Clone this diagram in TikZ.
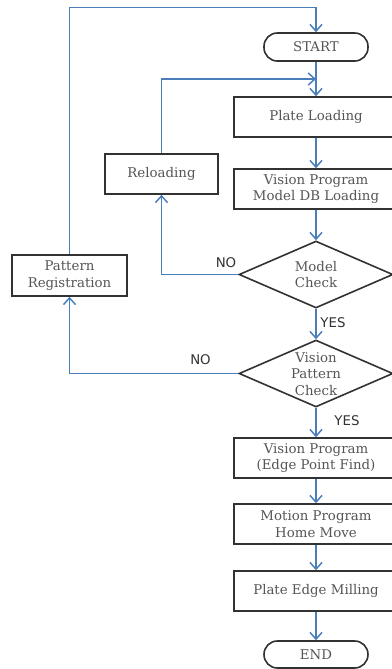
\documentclass[tikz,border=0pt]{standalone}
\usepackage{fontspec}
\setmainfont{DejaVu Serif}
\newfontfamily\lblfont{DejaVu Sans}
\usetikzlibrary{shapes.geometric,arrows.meta}
\definecolor{flow}{RGB}{74,126,187}
\definecolor{edgec}{RGB}{50,50,50}
\definecolor{txt}{RGB}{85,85,85}
\begin{document}
\begin{tikzpicture}[x=0.75pt,y=-0.75pt,
  proc/.style={draw=edgec, line width=1.2pt, fill=white, text=txt, align=center,
    font=\fontsize{10}{12.5}\selectfont, minimum height=30pt, inner sep=0pt},
  wide/.style={proc, minimum width=123pt},
  term/.style={proc, rounded corners=10pt, minimum width=78pt, minimum height=21pt},
  dec/.style={diamond, draw=edgec, line width=1.2pt, fill=white, minimum width=115.5pt,
    minimum height=50.25pt, inner sep=0pt},
  dtext/.style={text=txt, align=center, font=\fontsize{10}{12.5}\selectfont, inner sep=0pt},
  conn/.style={draw=flow, line width=1.1pt, -{Straight Barb[length=5pt,width=9pt]}},
  lbl/.style={font=\lblfont\fontsize{10}{12}\selectfont, text=edgec, inner sep=0pt}]
\useasboundingbox (0,0) rectangle (392,669);

\node[term] (start) at (316,47) {START};
\node[wide] (pl) at (316,117) {Plate Loading};
\node[wide] (vp) at (316,189) {Vision Program\\Model DB Loading};
\node[dec] (mc) at (316,274.5) {};
\node[dtext] (mct) at (316,274.5) {Model\\Check};
\node[dec] (vpc) at (316,373.5) {};
\node[dtext] (vpct) at (316,374) {Vision\\Pattern\\Check};
\node[wide] (ve) at (316,458) {Vision Program\\(Edge Point Find)};
\node[wide] (mp) at (316,524) {Motion Program\\Home Move};
\node[wide] (pem) at (316,591) {Plate Edge Milling};
\node[term, minimum height=20.25pt] (end) at (316,654.5) {END};
\node[proc, minimum width=84.75pt] (rl) at (161.5,174) {Reloading};
\node[proc, minimum width=86.25pt, minimum height=30.75pt] (pr) at (69.5,275.5) {Pattern\\Registration};

\coordinate (m1) at (316,79);
\coordinate (tl) at (69.5,7.5);

\draw[conn] (start) -- (pl);
\draw[conn] (rl.north) |- (m1);
\draw[conn] (pl) -- (vp);
\draw[conn] (vp) -- (mc);
\draw[conn] (mc.west) -| (rl.south);
\draw[conn] (mc) -- (vpc);
\draw[conn] (vpc.west) -| (pr.south);
\draw[conn] (vpc) -- (ve);
\draw[conn] (ve) -- (mp);
\draw[conn] (mp) -- (pem);
\draw[conn] (pem) -- (end);
\draw[conn] (pr.north) -- (tl) -| (start.north);

\node[lbl] (no1) at (226,262.5) {NO};
\node[lbl] (yes1) at (333,323) {YES};
\node[lbl] (no2) at (200.5,359.5) {NO};
\node[lbl] (yes2) at (347,421) {YES};
\end{tikzpicture}
\end{document}
